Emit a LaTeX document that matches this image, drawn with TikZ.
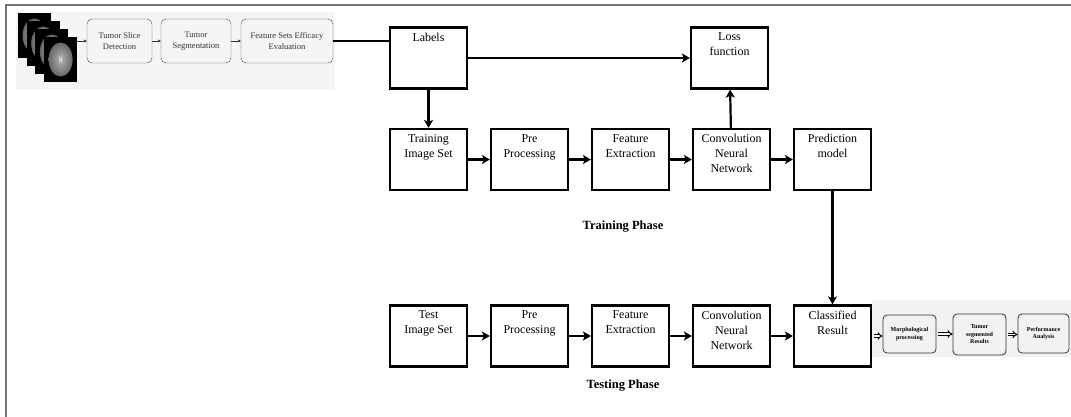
\documentclass[tikz,border=0pt]{standalone}
\usepackage{fontspec}
\setmainfont{Liberation Serif}
\usetikzlibrary{arrows.meta,positioning,calc}
\tikzset{
    block/.style={draw,line width=2.2pt,minimum width=77pt,minimum height=61pt,inner sep=0pt},
    intext/.style={anchor=north,align=center,yshift=-3pt,font=\fontsize{12}{15}\selectfont},
    arr/.style={-{Stealth[length=8pt,width=9pt,inset=2pt]},line width=2.2pt},
    stage/.style={draw=black!70,thin,rounded corners=5pt,minimum height=44pt,align=center,inner sep=1pt,text=black!80,font=\fontsize{8.5}{11}\selectfont},
    smallstage/.style={draw=black!80,line width=0.8pt,rounded corners=4pt,align=center,inner sep=0pt,font=\bfseries\fontsize{6}{7.5}\selectfont},
    thinarr/.style={-{Stealth[length=3pt,width=3pt]},black!80,thin},
    dblarr/.style={double=white,double distance=1.6pt,line width=0.9pt,-{Implies},shorten <=1.5pt},
    scan/.style={fill=black,minimum width=33pt,minimum height=45pt,inner sep=0pt},
    phase/.style={font=\bfseries\fontsize{12.5}{15}\selectfont},
}

\begin{document}
\begin{tikzpicture}[x=1pt,y=-1pt]
    \useasboundingbox (0,0) rectangle (1071,417);
    \draw[black!55,line width=1.5pt] (1071,5) -- (6,5) -- (6,417);

    % preprocessing strip
    \fill[black!4] (16,12) rectangle (335,90);
    \foreach \i in {0,...,3}{
        \node[scan] (scan\i) at (34.5+8.7*\i,35.5+8*\i) {};
        \shade[inner color=black!30,outer color=black!60] (scan\i) ellipse[x radius=12pt,y radius=17pt];
    }
    \fill[black!15] ($(scan3)+(-2,-6)$) -- ($(scan3)+(-1,4)$) -- ($(scan3)+(0,0)$) -- ($(scan3)+(1,4)$) -- ($(scan3)+(2,-6)$) -- ($(scan3)+(0,1)$) -- cycle;

    \node[stage,minimum width=65pt] (tsd) at (119.5,41) {Tumor Slice\\Detection};
    \node[stage,minimum width=70pt] (ts) at (196,41) {Tumor\\Segmentation};
    \node[stage,minimum width=92pt] (fse) at (287,41) {Feature Sets Efficacy\\Evaluation};
    \draw[thinarr] (tsd.west -| scan3.east) -- (tsd.west);
    \draw[thinarr] (tsd) -- (ts);
    \draw[thinarr] (ts) -- (fse);

    % training phase
    \node[block,label={[intext]north:Labels}] (labels) at (428.5,58) {};
    \node[block,label={[intext]north:Loss\\function}] (loss) at (729.5,58) {};

    \node[block,label={[intext]north:Training\\Image Set}] (train) at (428.5,159.5) {};
    \node[block,right=21.8pt of train,label={[intext]north:Pre\\Processing}] (pre1) {};
    \node[block,right=21.8pt of pre1,label={[intext]north:Feature\\Extraction}] (feat1) {};
    \node[block,right=21.8pt of feat1,label={[intext]north:Convolution\\Neural\\Network}] (cnn1) {};
    \node[block,right=21.8pt of cnn1,label={[intext]north:Prediction\\model}] (pred) {};
    \node[phase] (trainphase) at (623,227) {Training Phase};

    \draw[line width=2.2pt] (fse.east) -- (fse.east -| labels.west);
    \draw[arr] (labels) -- (loss);
    \draw[arr] (labels) -- (train);
    \draw[arr] (cnn1) -- (loss);
    \draw[arr] (train) -- (pre1);
    \draw[arr] (pre1) -- (feat1);
    \draw[arr] (feat1) -- (cnn1);
    \draw[arr] (cnn1) -- (pred);

    % testing phase
    \node[block,label={[intext]north:Test\\Image Set}] (test) at (428.5,336) {};
    \node[block,right=21.8pt of test,label={[intext]north:Pre\\Processing}] (pre2) {};
    \node[block,right=21.8pt of pre2,label={[intext]north:Feature\\Extraction}] (feat2) {};
    \node[block,right=21.8pt of feat2,label={[intext]north:Convolution\\Neural\\Network}] (cnn2) {};
    \node[block,right=21.8pt of cnn2,label={[intext]north:Classified\\Result}] (cls) {};
    \node[phase] (testphase) at (623,386) {Testing Phase};

    \draw[arr] (pred) -- (cls);
    \draw[arr] (test) -- (pre2);
    \draw[arr] (pre2) -- (feat2);
    \draw[arr] (feat2) -- (cnn2);
    \draw[arr] (cnn2) -- (cls);

    % postprocessing strip
    \fill[black!5] (872,300) rectangle (1071,357);
    \node[smallstage,minimum width=53pt,minimum height=38pt] (morph) at (909.5,334) {Morphological\\processing};
    \node[smallstage,minimum width=53pt,minimum height=41pt] (tsr) at (979.5,334.5) {Tumor\\segmented\\Results};
    \node[smallstage,minimum width=51pt,minimum height=39pt] (perf) at (1043.5,333.5) {Performance\\Analysis};
    \draw[dblarr] (cls.east) -- (cls.east -| morph.west);
    \draw[dblarr] (morph.east) -- (morph.east -| tsr.west);
    \draw[dblarr] (tsr.east) -- (tsr.east -| perf.west);
\end{tikzpicture}
\end{document}
